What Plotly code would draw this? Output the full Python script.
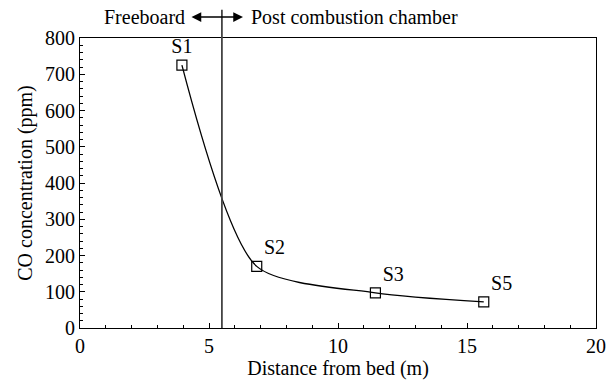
import plotly.graph_objects as go

distance = [3.95, 6.85, 11.45, 15.65]
co_ppm = [725, 170, 97, 72]
labels = ["S1", "S2", "S3", "S5"]
label_pos = ["top center", "top right", "top right", "top right"]
boundary_x = 5.5

FONT = "Liberation Serif"
FS = 20

fig = go.Figure()
fig.add_trace(go.Scatter(
    x=distance, y=co_ppm, mode="lines+markers+text",
    text=labels, textposition=label_pos,
    textfont=dict(family=FONT, size=FS, color="black"),
    line=dict(color="black", width=1.3, shape="spline", smoothing=0.7),
    marker=dict(symbol="square-open", size=10, color="black", line=dict(width=1.2)),
    showlegend=False, cliponaxis=False,
))

fig.add_shape(type="line", xref="x", yref="paper", x0=boundary_x, x1=boundary_x,
              y0=0, y1=1.097, line=dict(color="#444", width=1.8))

fig.add_annotation(xref="paper", yref="paper", x=(187 - 80) / 516, y=1.072,
                   text="Freeboard", showarrow=False, xanchor="right", yanchor="middle",
                   font=dict(family=FONT, size=FS, color="black"))
fig.add_annotation(xref="paper", yref="paper", x=(249 - 80) / 516, y=1.072,
                   text="Post combustion chamber", showarrow=False, xanchor="left", yanchor="middle",
                   font=dict(family=FONT, size=FS, color="black"))
fig.add_annotation(xref="paper", yref="paper", x=(243 - 80) / 516, y=1.072,
                   ax=-53, ay=0, text="", showarrow=True, arrowhead=2, arrowside="end+start",
                   arrowsize=1.3, arrowwidth=1.5, arrowcolor="black")

axis_common = dict(showline=True, linecolor="black", linewidth=1.2, mirror=True,
                   ticks="inside", tickcolor="black", showgrid=False, zeroline=False,
                   automargin=False,
                   tickfont=dict(family=FONT, size=FS, color="black"))

fig.update_xaxes(range=[0, 20], tickvals=[0, 5, 10, 15, 20], ticklen=5,
                 minor=dict(dtick=1, ticklen=3, ticks="inside", tickcolor="black"),
                 title=dict(text="Distance from bed (m)", font=dict(family=FONT, size=FS, color="black"), standoff=0),
                 **axis_common)
fig.update_yaxes(range=[0, 800], tickvals=list(range(0, 801, 100)), ticklen=5,
                 minor=dict(dtick=20, ticklen=3, ticks="inside", tickcolor="black"),
                 title=dict(text="CO concentration (ppm)", font=dict(family=FONT, size=FS, color="black"), standoff=6),
                 **axis_common)

fig.update_layout(width=611, height=383, margin=dict(l=80, r=15, t=38, b=55),
                  plot_bgcolor="white", paper_bgcolor="white")

fig.write_html("out.html")
